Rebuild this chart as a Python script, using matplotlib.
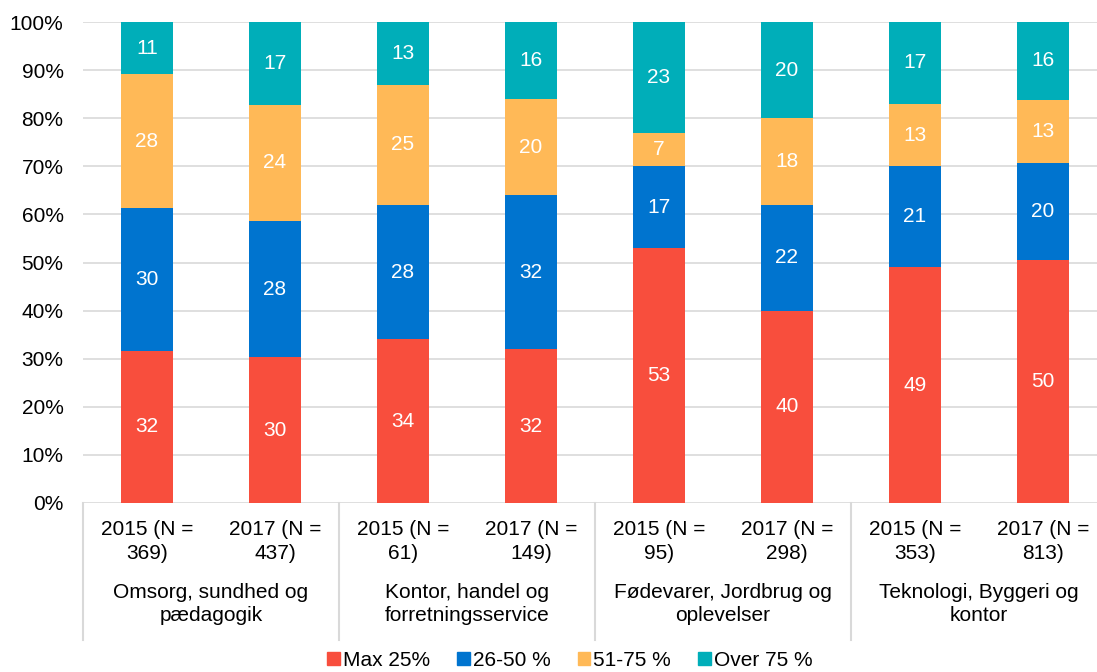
import numpy as np
import matplotlib
matplotlib.use("Agg")
import matplotlib.pyplot as plt
from matplotlib.patches import Patch

plt.rcParams['font.family'] = ['Liberation Sans', 'DejaVu Sans']

# data
aar = ['2015 (N =\n369)', '2017 (N =\n437)', '2015 (N =\n61)', '2017 (N =\n149)',
       '2015 (N =\n95)', '2017 (N =\n298)', '2015 (N =\n353)', '2017 (N =\n813)']
grupper = ['Omsorg, sundhed og\npædagogik', 'Kontor, handel og\nforretningsservice',
           'Fødevarer, Jordbrug og\noplevelser', 'Teknologi, Byggeri og\nkontor']
serier = ['Max 25%', '26-50 %', '51-75 %', 'Over 75 %']
max25 = [32, 30, 34, 32, 53, 40, 49, 50]
p26_50 = [30, 28, 28, 32, 17, 22, 21, 20]
p51_75 = [28, 24, 25, 20, 7, 18, 13, 13]
over75 = [11, 17, 13, 16, 23, 20, 17, 16]

farver = ['#F84E3D', '#0074CF', '#FFB957', '#00AEB9']
grid_c = '#D9D9D9'
fs = 15

vals = np.array([max25, p26_50, p51_75, over75], dtype=float)
andel = vals / vals.sum(axis=0) * 100  # 100% stablet

W, H = 1097, 672
fig = plt.figure(figsize=(W / 100, H / 100), dpi=100)
ax = fig.add_axes([83 / W, (H - 503) / H, 1024 / W, 481 / H])

x = np.arange(len(aar))
bund = np.zeros(len(aar))
for i in range(4):
    ax.bar(x, andel[i], bottom=bund, width=0.41, color=farver[i], zorder=3)
    for j in range(len(aar)):
        ax.text(x[j], bund[j] + andel[i][j] / 2, '%d' % vals[i][j], color='white',
                ha='center', va='center', fontsize=fs, zorder=4)
    bund += andel[i]

ax.set_xlim(-0.5, 7.5)
ax.set_ylim(0, 100)
ax.set_yticks(np.arange(0, 101, 10))
ax.set_yticklabels(['%d%%' % v for v in range(0, 101, 10)], fontsize=fs)
ax.tick_params(axis='y', length=0, pad=14)
ax.set_xticks([])
ax.yaxis.grid(True, color=grid_c, linewidth=1.2, zorder=0)
for s in ax.spines.values():
    s.set_visible(False)

tr = ax.get_xaxis_transform()
for j in range(len(aar)):
    ax.text(x[j], -0.036, aar[j], transform=tr, ha='center', va='top',
            fontsize=fs, linespacing=1.3)
for g in range(4):
    ax.text(2 * g + 0.5, -0.166, grupper[g], transform=tr, ha='center', va='top',
            fontsize=fs, linespacing=1.3)
for b in [-0.5, 1.5, 3.5, 5.5, 7.5]:
    ax.plot([b, b], [0, -0.285], transform=tr, color=grid_c, linewidth=1.5, clip_on=False)

handles = [Patch(color=farver[i], label=serier[i]) for i in range(4)]
fig.legend(handles=handles, loc='center', bbox_to_anchor=(570 / W, (H - 660) / H),
           ncol=4, frameon=False, fontsize=fs, handlelength=0.6, handleheight=0.6,
           handletextpad=0.15, columnspacing=1.3)

fig.savefig('out.png', dpi=100)
